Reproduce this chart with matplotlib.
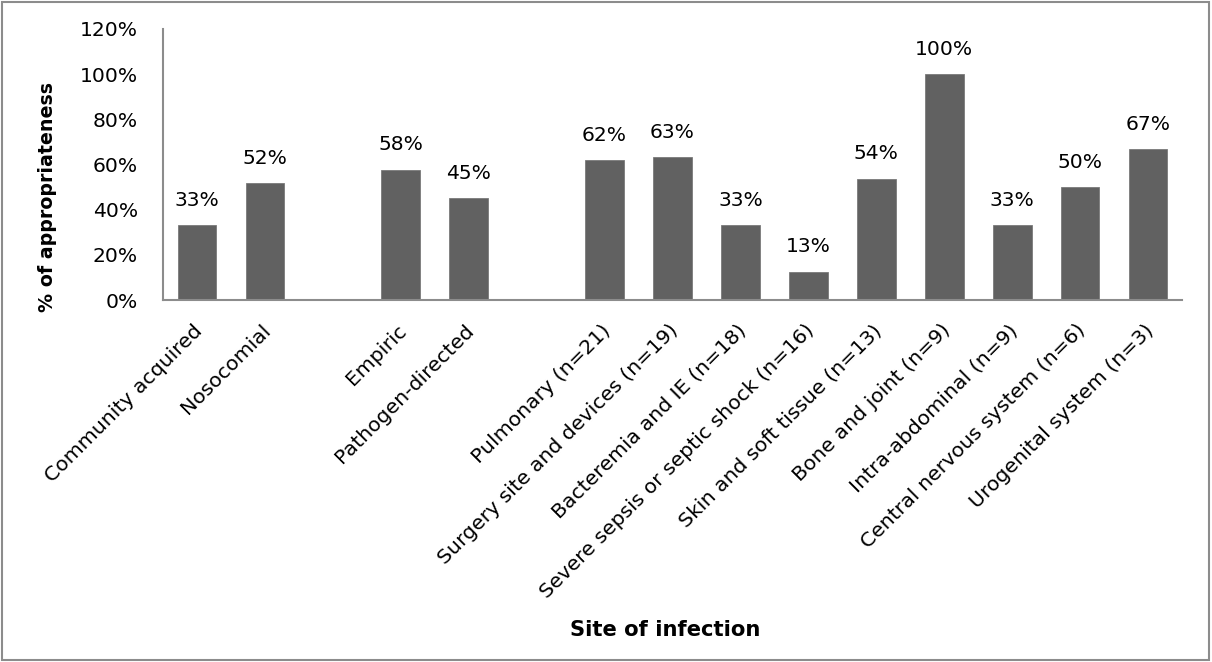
import matplotlib
matplotlib.use("Agg")
import matplotlib.pyplot as plt
from matplotlib.patches import Rectangle
from matplotlib.ticker import FuncFormatter
from matplotlib.transforms import ScaledTranslation

categories = [
    "Community acquired", "Nosocomial", "",
    "Empiric", "Pathogen-directed", "",
    "Pulmonary (n=21)", "Surgery site and devices (n=19)", "Bacteremia and IE (n=18)",
    "Severe sepsis or septic shock (n=16)", "Skin and soft tissue (n=13)",
    "Bone and joint (n=9)", "Intra-abdominal (n=9)", "Central nervous system (n=6)",
    "Urogenital system (n=3)",
]
values = [33.3, 51.6, None, 57.7, 45.2, None, 61.9, 63.2, 33.3, 12.6, 53.8,
          100.0, 33.3, 50.0, 66.7]
y_ticks = [0, 20, 40, 60, 80, 100, 120]

plt.rcParams['font.family'] = ['DejaVu Sans']

W, H = 1212, 662
fig = plt.figure(figsize=(W / 100, H / 100), dpi=100)
ax = fig.add_axes([163 / W, 1 - 300 / H, (1182 - 163) / W, (300 - 29) / H])

bar_color = '#616161'
xs = list(range(len(categories)))
for x, v in zip(xs, values):
    if v is None:
        continue
    ax.bar(x, v, width=0.57, color=bar_color, edgecolor='#7a7a7a', linewidth=0.6)
    ax.annotate(f"{round(v):d}%", (x, v), xytext=(0, 11), textcoords='offset points',
                ha='center', va='bottom', fontsize=14.6, color='black')

ax.set_xlim(-0.5, len(categories) - 0.5)
ax.set_ylim(0, 120)
ax.set_yticks(y_ticks)
ax.yaxis.set_major_formatter(FuncFormatter(lambda v, p: f"{int(v)}%"))
ax.tick_params(axis='y', length=0, labelsize=14.6, pad=18)
ax.set_xticks(xs)
ax.set_xticklabels(categories, rotation=45, ha='right', va='top', rotation_mode='anchor',
                   fontsize=14.7)
ax.tick_params(axis='x', length=0, pad=15)
shift = ScaledTranslation(-4 / 100, 0, fig.dpi_scale_trans)
for lab in ax.get_xticklabels():
    lab.set_transform(lab.get_transform() + shift)

for s in ['top', 'right']:
    ax.spines[s].set_visible(False)
for s in ['left', 'bottom']:
    ax.spines[s].set_color('#8c8c8c')
    ax.spines[s].set_linewidth(1.5)

fig.text(48 / W, 1 - 197 / H, "% of appropriateness", rotation=90, ha='center', va='center',
         fontsize=13.7, fontweight='bold')
fig.text(665 / W, 1 - 630 / H, "Site of infection", ha='center', va='center',
         fontsize=15.2, fontweight='bold')

fig.patches.append(Rectangle((2 / W, 2 / H), (W - 5) / W, (H - 4) / H, transform=fig.transFigure,
                             fill=False, edgecolor='#8c8c8c', linewidth=1.5))

fig.savefig("out.png", dpi=100)
